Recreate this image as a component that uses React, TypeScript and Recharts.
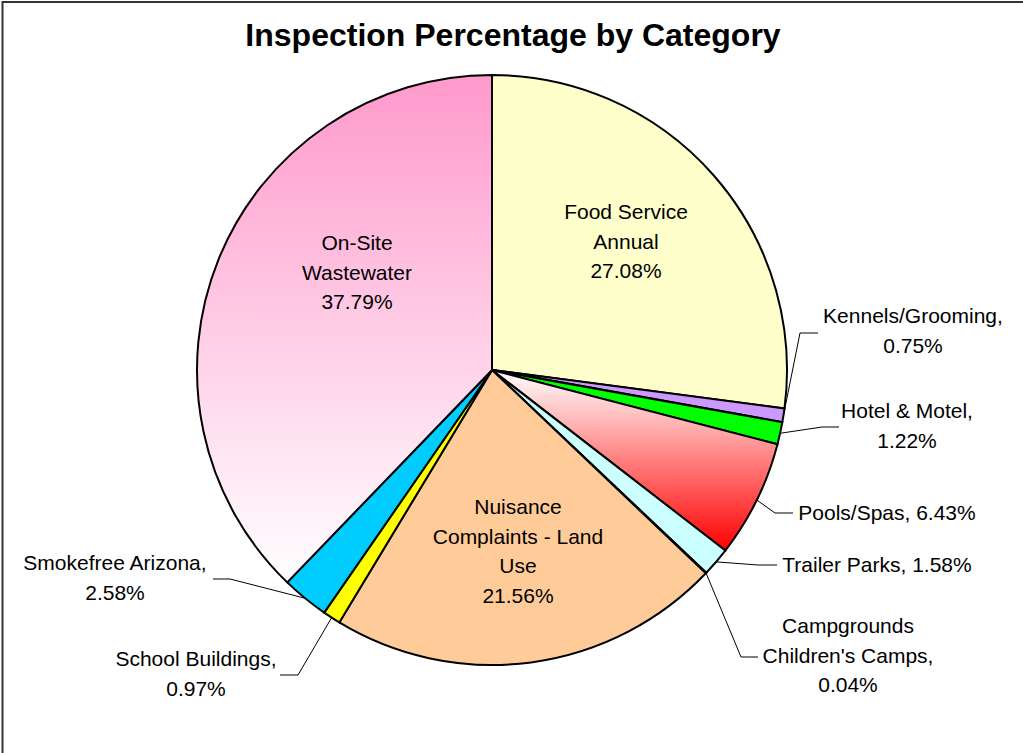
import { PieChart, Pie, Cell } from "recharts";

// slices in clockwise order from 12 o'clock
const categories = [
  "Food Service\nAnnual",
  "Kennels/Grooming",
  "Hotel & Motel",
  "Pools/Spas",
  "Trailer Parks",
  "Campgrounds\nChildren's Camps",
  "Nuisance\nComplaints - Land\nUse",
  "School Buildings",
  "Smokefree Arizona",
  "On-Site\nWastewater",
];
const percents = [27.08, 0.75, 1.22, 6.43, 1.58, 0.04, 21.56, 0.97, 2.58, 37.79];
const fills = [
  "#FFFFCC",
  "#CC99FF",
  "#00FF00",
  "url(#poolsGrad)",
  "#CCFFFF",
  "#FF8080",
  "#FFCC99",
  "#FFFF00",
  "#00CCFF",
  "url(#onsiteGrad)",
];

const data = categories.map((name, i) => ({ name, value: percents[i] }));

const CX = 492;
const CY = 370;
const R = 295;
const FONT = "'Liberation Sans', Arial, sans-serif";

// label placement, offsets from pie centre. inside labels have no leader.
type LabelSpot = {
  x: number;
  y: number;
  inside?: boolean;
  inline?: boolean;
  elbow?: [number, number];
  end?: [number, number];
};
const labelSpots: LabelSpot[] = [
  { x: 134, y: -151, inside: true },
  { x: 421, y: -47, elbow: [308, -37], end: [326, -37] },
  { x: 415, y: 48, elbow: [330, 57], end: [347, 57] },
  { x: 395, y: 150, inline: true, elbow: [283, 143], end: [301, 143] },
  { x: 385, y: 202, inline: true, elbow: [266, 195], end: [285, 195] },
  { x: 356, y: 263, elbow: [249, 287], end: [266, 287] },
  { x: 26, y: 144, inside: true },
  { x: -296, y: 296, elbow: [-194, 305], end: [-212, 305] },
  { x: -377, y: 200, elbow: [-262, 209], end: [-279, 209] },
  { x: -135, y: -120, inside: true },
];

const LINE_H = 29.5;
const RADIAN = Math.PI / 180;

function renderLabel(props: any) {
  const { cx, cy, midAngle, outerRadius, index, value, name } = props;
  const spot = labelSpots[index];
  const pct = `${Number(value).toFixed(2)}%`;
  const nameLines = String(name).split("\n");
  let lines: string[];
  if (spot.inside) {
    lines = [...nameLines, pct];
  } else if (spot.inline) {
    lines = [`${nameLines.join(" ")}, ${pct}`];
  } else {
    const l = [...nameLines];
    l[l.length - 1] = l[l.length - 1] + ",";
    lines = [...l, pct];
  }
  let leader = null;
  if (spot.elbow && spot.end) {
    const sx = cx + outerRadius * Math.cos(-midAngle * RADIAN);
    const sy = cy + outerRadius * Math.sin(-midAngle * RADIAN);
    leader = (
      <polyline
        points={`${sx},${sy} ${cx + spot.elbow[0]},${cy + spot.elbow[1]} ${cx + spot.end[0]},${cy + spot.end[1]}`}
        fill="none"
        stroke="#000"
        strokeWidth={1}
      />
    );
  }
  return (
    <g key={`lbl-${index}`}>
      {leader}
      <text
        x={cx + spot.x}
        y={cy + spot.y}
        textAnchor="middle"
        fontFamily={FONT}
        fontSize={21}
        fill="#000"
      >
        {lines.map((ln, i) => (
          <tspan key={i} x={cx + spot.x} y={cy + spot.y + i * LINE_H}>
            {ln}
          </tspan>
        ))}
      </text>
    </g>
  );
}

export default function App() {
  return (
    <div
      style={{
        position: "absolute",
        left: 0,
        top: 0,
        width: 1023,
        height: 753,
        background: "#fff",
        overflow: "hidden",
      }}
    >
      <PieChart width={1023} height={753} margin={{ top: 0, right: 0, bottom: 0, left: 0 }}>
        <defs>
          <linearGradient id="onsiteGrad" x1="0" y1="0" x2="0" y2="1">
            <stop offset="0%" stopColor="#FF99CC" />
            <stop offset="100%" stopColor="#FFFFFF" />
          </linearGradient>
          <linearGradient id="poolsGrad" x1="0" y1="0" x2="0" y2="1">
            <stop offset="0%" stopColor="#FFFFFF" />
            <stop offset="100%" stopColor="#FF0000" />
          </linearGradient>
        </defs>
        <Pie
          data={data}
          dataKey="value"
          nameKey="name"
          cx={CX}
          cy={CY}
          outerRadius={R}
          startAngle={90}
          endAngle={-270}
          stroke="#000"
          strokeWidth={2}
          label={renderLabel}
          labelLine={false}
          isAnimationActive={false}
        >
          {data.map((d, i) => (
            <Cell key={d.name} fill={fills[i]} />
          ))}
        </Pie>
      </PieChart>
      <svg
        width={1023}
        height={753}
        style={{ position: "absolute", left: 0, top: 0, pointerEvents: "none" }}
      >
        <polyline points="2.5,753 2.5,2 1023,2" fill="none" stroke="#333" strokeWidth={2} />
        <text
          x={513}
          y={46}
          textAnchor="middle"
          fontFamily={FONT}
          fontWeight="bold"
          fontSize={32}
          fill="#000"
        >
          Inspection Percentage by Category
        </text>
      </svg>
    </div>
  );
}
